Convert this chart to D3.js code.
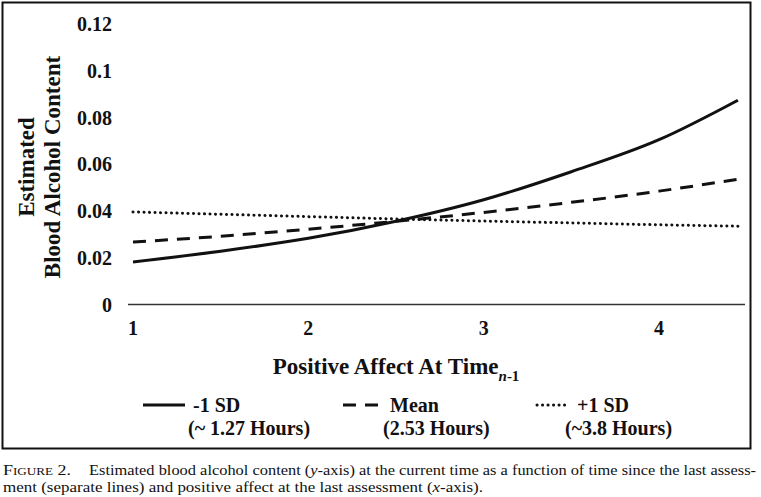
<!DOCTYPE html>
<html>
<head>
    <meta charset="utf-8">
    <title>Estimated blood alcohol content</title>
    <script src="https://cdn.jsdelivr.net/npm/d3@7/dist/d3.min.js"></script>
    <style>
    body { margin: 0; background: #fff; }
    text { font-family: "Liberation Serif", "Times New Roman", serif; fill: #111; }
    .bold { font-weight: bold; }
    .curve { fill: none; stroke: #111; }
    </style>
</head>
<body>
<script>
// values
var affect = [1, 1.5, 2, 2.5, 3, 3.5, 4, 4.45];
var lowSD = [0.0182, 0.0228, 0.0283, 0.0356, 0.0448, 0.0568, 0.0705, 0.0874];
var meanTime = [0.0267, 0.0292, 0.0322, 0.0356, 0.0394, 0.0437, 0.0485, 0.0536];
var highSD = [0.0396, 0.0386, 0.0376, 0.0366, 0.0357, 0.0349, 0.0341, 0.0335];
var yTicks = [0, 0.02, 0.04, 0.06, 0.08, 0.1, 0.12];
var xTicks = [1, 2, 3, 4];
var seriesNames = ["-1 SD", "Mean", "+1 SD"];
var seriesNotes = ["(~ 1.27 Hours)", "(2.53 Hours)", "(~3.8 Hours)"];

var width = 761, height = 497;
var svg = d3.select("body").append("svg")
    .attr("width", width).attr("height", height);

var x = d3.scaleLinear().domain([1, 4]).range([133, 659]);
var y = d3.scaleLinear().domain([0, 0.12]).range([304.5, 24]);

// frame
svg.append("rect")
    .attr("x", 2.5).attr("y", 2.5).attr("width", 748).attr("height", 446)
    .attr("fill", "none").attr("stroke", "#111").attr("stroke-width", 2);

// baseline
svg.append("line")
    .attr("x1", 128).attr("x2", 745)
    .attr("y1", y(0)).attr("y2", y(0))
    .attr("stroke", "#333").attr("stroke-width", 1.5);

// y tick labels
svg.selectAll(".ytick").data(yTicks).enter().append("text")
    .attr("class", "bold")
    .attr("x", 112).attr("y", function(d) { return y(d); })
    .attr("dy", "0.35em")
    .attr("text-anchor", "end")
    .attr("font-size", 20)
    .text(function(d) { return d === 0 ? "0" : d3.format("~g")(d); });

// x tick labels
svg.selectAll(".xtick").data(xTicks).enter().append("text")
    .attr("class", "bold")
    .attr("x", function(d) { return x(d); }).attr("y", 328)
    .attr("dy", "0.35em")
    .attr("text-anchor", "middle")
    .attr("font-size", 20)
    .text(function(d) { return d; });

// axis titles
var yt = svg.append("text").attr("class", "bold")
    .attr("transform", "translate(0,167) rotate(-90)")
    .attr("text-anchor", "middle").attr("font-size", 23);
yt.append("tspan").attr("x", 0).attr("y", 34).text("Estimated");
yt.append("tspan").attr("x", 0).attr("y", 60).text("Blood Alcohol Content");

var xt = svg.append("text").attr("class", "bold")
    .attr("x", 396).attr("y", 374)
    .attr("text-anchor", "middle").attr("font-size", 23);
xt.append("tspan").text("Positive Affect At Time");
xt.append("tspan").attr("font-size", 15).attr("dy", 7).attr("font-style", "italic").text("n");
xt.append("tspan").attr("font-size", 15).text("-1");

// curves
var styles = [
    { w: 3, dash: null, cap: "butt" },
    { w: 3, dash: "13,9", cap: "butt" },
    { w: 3, dash: "0.1,5.4", cap: "round" }
];
var series = [lowSD, meanTime, highSD];
var line = d3.line()
    .x(function(d, i) { return x(affect[i]); })
    .y(function(d) { return y(d); })
    .curve(d3.curveMonotoneX);

svg.selectAll(".curve").data(series).enter().append("path")
    .attr("class", "curve")
    .attr("d", line)
    .attr("stroke-width", function(d, i) { return styles[i].w; })
    .attr("stroke-dasharray", function(d, i) { return styles[i].dash; })
    .attr("stroke-linecap", function(d, i) { return styles[i].cap; });

// legend
var legX = [[143, 185, 193, 188], [343, 378, 390, 383], [537, 570, 577, 565]];
var leg = svg.selectAll(".leg").data(seriesNames).enter().append("g");
leg.append("line")
    .attr("x1", function(d, i) { return legX[i][0]; })
    .attr("x2", function(d, i) { return legX[i][1]; })
    .attr("y1", 405).attr("y2", 405)
    .attr("stroke", "#111")
    .attr("stroke-width", function(d, i) { return styles[i].w; })
    .attr("stroke-dasharray", function(d, i) { return styles[i].dash; })
    .attr("stroke-linecap", function(d, i) { return styles[i].cap; });
leg.append("text").attr("class", "bold")
    .attr("x", function(d, i) { return legX[i][2]; }).attr("y", 412)
    .attr("font-size", 20)
    .text(function(d) { return d; });
leg.append("text").attr("class", "bold")
    .attr("x", function(d, i) { return legX[i][3]; }).attr("y", 435)
    .attr("font-size", 20)
    .text(function(d, i) { return seriesNotes[i]; });

// caption
svg.append("text").attr("x", 3).attr("y", 475).attr("font-size", 15)
    .attr("font-variant", "small-caps")
    .attr("textLength", 68).attr("lengthAdjust", "spacingAndGlyphs")
    .text("Figure 2.");
var c1 = svg.append("text").attr("x", 89).attr("y", 475).attr("font-size", 15)
    .attr("textLength", 667).attr("lengthAdjust", "spacingAndGlyphs");
c1.append("tspan").text("Estimated blood alcohol content (");
c1.append("tspan").attr("font-style", "italic").text("y");
c1.append("tspan").text("-axis) at the current time as a function of time since the last assess-");
var c2 = svg.append("text").attr("x", 3).attr("y", 492).attr("font-size", 15)
    .attr("textLength", 480).attr("lengthAdjust", "spacingAndGlyphs");
c2.append("tspan").text("ment (separate lines) and positive affect at the last assessment (");
c2.append("tspan").attr("font-style", "italic").text("x");
c2.append("tspan").text("-axis).");
</script>
</body>
</html>
